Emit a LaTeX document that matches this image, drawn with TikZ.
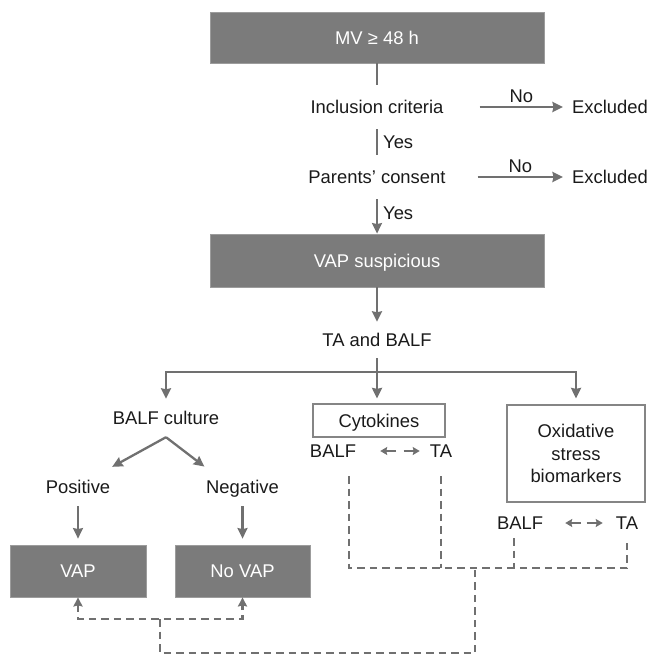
\documentclass[tikz,border=0pt]{standalone}
\usepackage{fontspec}
\setmainfont{Liberation Sans}
\usetikzlibrary{arrows.meta,positioning}
\definecolor{boxgray}{HTML}{7B7B7B}
\definecolor{linegray}{HTML}{707070}
\definecolor{txt}{HTML}{1A1A1A}
\tikzset{
  graybox/.style={fill=boxgray,draw=boxgray!75!white,line width=0.8pt,text=white,inner sep=0pt,text height=13.5pt,text depth=0pt},
  whitebox/.style={draw=linegray!85!white,line width=1.2pt,text=txt,inner sep=0pt},
  lbl/.style={text=txt,inner sep=0pt,text height=13.5pt,text depth=0pt},
  conn/.style={draw=linegray,line width=2.3pt},
  arr/.style={conn,-{Stealth[length=10.5pt,width=10pt,inset=1pt]}},
  dsh/.style={conn,dash pattern=on 7.5pt off 5pt},
  smallarr/.style={draw=linegray,line width=1.8pt,-{Stealth[length=7pt,width=8pt,inset=1pt]}}
}

\begin{document}
\begin{tikzpicture}[x=1pt,y=-1pt,font=\fontsize{18.4}{22.5}\selectfont]
\useasboundingbox (0,0) rectangle (651,655);

\node[graybox,minimum width=334pt,minimum height=51pt] (mv) at (377,37.5) {MV ≥ 48 h};
\node[lbl,minimum height=44pt] (incl) at (377,107) {Inclusion criteria};
\node[lbl,anchor=west] (exc1) at (572,107) {Excluded};
\node[lbl,minimum height=44pt] (cons) at (377,177) {Parents’ consent};
\node[lbl,anchor=west] (exc2) at (572,177) {Excluded};
\node[graybox,minimum width=334pt,minimum height=53pt] (susp) at (377,260.5) {VAP suspicious};
\node[lbl,minimum height=36pt] (taba) at (377,340) {TA and BALF};
\coordinate (split) at (377,372);

\node[lbl,minimum height=38pt] (cult) at (166,418) {BALF culture};
\node[whitebox,text height=13.5pt,text depth=0pt,minimum width=132pt,minimum height=33pt] (cyto) at (379,420.5) {Cytokines};
\node[whitebox,align=center,minimum width=138pt,minimum height=97pt] (oxi) at (576,453.5) {Oxidative\\stress\\biomarkers};

\node[lbl,minimum height=50pt] (cbalf) at (333,451) {BALF};
\node[lbl,minimum height=50pt] (cta) at (441,451) {TA};
\node[lbl,minimum height=30pt] (obalf) at (520,523) {BALF};
\node[lbl,minimum height=30pt] (ota) at (627,523) {TA};

\node[lbl,minimum height=38pt] (pos) at (78,487) {Positive};
\node[lbl,minimum height=38pt] (neg) at (242.5,487) {Negative};
\node[graybox,minimum width=136pt,minimum height=52pt] (vap) at (78,571) {VAP};
\node[graybox,minimum width=135pt,minimum height=52pt] (novap) at (242.5,571) {No VAP};

\coordinate (join) at (160,619);
\coordinate (hub) at (475,568);
\coordinate (low) at (475,653);

% screening
\draw[conn] (mv) -- (incl);
\draw[arr] ([xshift=36pt]incl.east) -- ([xshift=-9pt]exc1.west) node[lbl,midway,above=3pt] {No};
\draw[conn] (incl) -- (cons) node[lbl,midway,right=5pt] {Yes};
\draw[arr] ([xshift=32pt]cons.east) -- ([xshift=-9pt]exc2.west) node[lbl,midway,above=3pt] {No};
\draw[arr] (cons) -- (susp) node[lbl,pos=0.4,right=5pt] {Yes};
\draw[arr] (susp) -- (taba);
\draw[conn] (taba) -- (split);
\draw[arr] (split) -| (cult);
\draw[arr,shorten >=5pt] (split) -- (split |- cyto.north);
\draw[arr,shorten >=6pt] (split) -| (oxi);

% culture
\draw[arr,shorten >=2pt] (cult.south) -- (pos.north east);
\draw[arr,shorten >=2pt] (cult.south) -- (neg.north west);
\draw[arr,shorten >=6pt] (pos) -- (vap);
\draw[arr,shorten >=6pt] (neg) -- (novap);

\draw[smallarr] ([xshift=40pt]cbalf.east) -- ++(-16,0);
\draw[smallarr] ([xshift=-26pt]cta.west) -- ++(16,0);
\draw[smallarr] ([xshift=38pt]obalf.east) -- ++(-16,0);
\draw[smallarr] ([xshift=-29pt]ota.west) -- ++(16,0);

% comparison
\draw[dsh,{Stealth[length=9pt,width=9pt,inset=1pt]}-{Stealth[length=9pt,width=9pt,inset=1pt]}] (vap) |- (join) -| (novap);
\draw[dsh] (join) |- (low) -- (hub);
\draw[dsh] ([xshift=-7pt]cbalf.south east) |- (hub -| ota) -- (ota);
\draw[dsh] (cta) -- (cta |- hub);
\draw[dsh] ([xshift=-6pt]obalf.south) -- ([xshift=-6pt]obalf.south |- hub);

\end{tikzpicture}
\end{document}
